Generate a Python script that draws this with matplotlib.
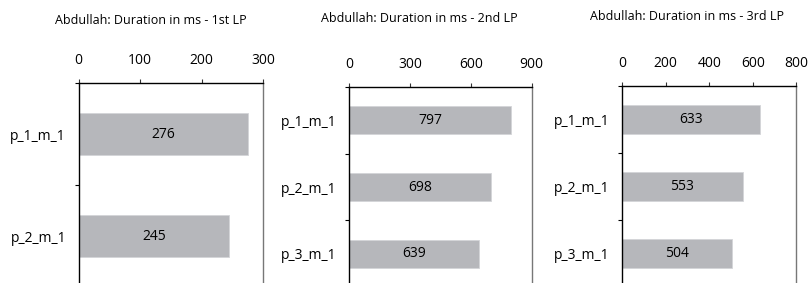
import matplotlib
matplotlib.use("Agg")
import matplotlib.pyplot as plt
import numpy as np

plt.rcParams['font.family'] = ['Open Sans', 'DejaVu Sans']

titles = ["Abdullah: Duration in ms - 1st LP",
          "Abdullah: Duration in ms - 2nd LP",
          "Abdullah: Duration in ms - 3rd LP"]
cats1 = ["p_1_m_1", "p_2_m_1"]
vals1 = [276, 245]
cats2 = ["p_1_m_1", "p_2_m_1", "p_3_m_1"]
vals2 = [797, 698, 639]
cats3 = ["p_1_m_1", "p_2_m_1", "p_3_m_1"]
vals3 = [633, 553, 504]
xmax = [300, 900, 800]
xstep = [100, 300, 200]

W, H = 810, 283
fig = plt.figure(figsize=(W / 100, H / 100), dpi=100)

# pixel boxes: left, right, top, bottom
boxes = [(78.5, 263, 83, 287), (349.3, 531.7, 87, 287), (622.3, 796.3, 86, 287)]
title_pos = [(151, 21), (419, 18), (687, 16)]
bar_color = "#b6b7bb"

for i, (cats, vals) in enumerate([(cats1, vals1), (cats2, vals2), (cats3, vals3)]):
    l, r, t, b = boxes[i]
    ax = fig.add_axes([l / W, 1 - b / H, (r - l) / W, (b - t) / H])
    y = np.arange(len(cats))
    ax.barh(y, vals, height=0.42, color=bar_color, edgecolor="#d4d5d8", linewidth=0.6)
    ax.set_ylim(len(cats) - 0.5, -0.5)
    ax.set_xlim(0, xmax[i])
    ax.set_xticks(np.arange(0, xmax[i] + 1, xstep[i]))
    ax.xaxis.tick_top()
    ax.tick_params(axis='x', direction='out', length=3, width=0.8, pad=8,
                   labelsize=10, color="#333333")
    ax.set_yticks(y)
    ax.set_yticklabels(cats)
    ax.set_yticks(np.arange(len(cats)) - 0.5, minor=True)
    ax.tick_params(axis='y', which='major', length=0, pad=9, labelsize=10)
    ax.tick_params(axis='y', which='minor', length=3, width=0.8, direction='out')
    ax.spines['bottom'].set_visible(False)
    ax.spines['left'].set_color("black")
    ax.spines['top'].set_color("black")
    ax.spines['right'].set_color("#777777")
    for s in ['left', 'top', 'right']:
        ax.spines[s].set_linewidth(1.0)
    for yy, v in zip(y, vals):
        ax.text(v / 2, yy, str(v), ha='center', va='center', fontsize=10, color="black")
    tx, ty = title_pos[i]
    fig.text(tx / W, 1 - ty / H, titles[i], ha='center', va='center', fontsize=9)

fig.savefig("out.png", dpi=100)
